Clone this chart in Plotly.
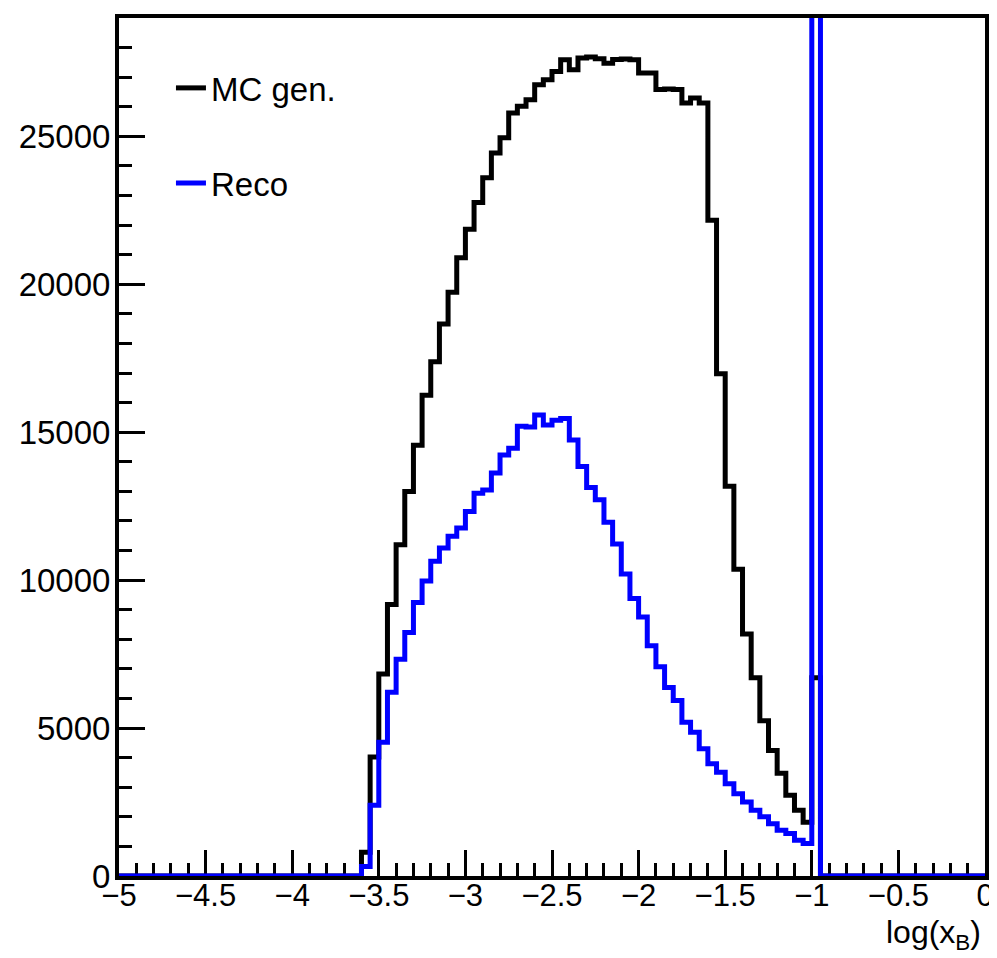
import numpy as np
import plotly.graph_objects as go

# Histogram binning: 100 bins from -5 to 0 in log(x_B)
x_min = -5.0
x_max = 0.0
n_bins = 100
first_bin = 28  # first non-empty bin index ([-3.6, -3.55])

# Bin contents (from bin [-3.6,-3.55] up to bin [-1.0,-0.95]); all other bins are 0
mc_gen = [800, 4020, 6830, 9180, 11200, 13000, 14560, 16250, 17380, 18660,
          19730, 20900, 21860, 22760, 23600, 24440, 24950, 25790, 26020, 26240,
          26740, 26910, 27190, 27590, 27250, 27650, 27680, 27620, 27470, 27600,
          27610, 27590, 27140, 27140, 26580, 26600, 26580, 26130, 26300, 26130,
          22160, 16980, 13170, 10370, 8180, 6700, 5250, 4240, 3470, 2730,
          2220, 1820, 6700]
reco = [320, 2390, 4520, 6210, 7330, 8230, 9240, 9970, 10640, 11090,
        11480, 11760, 12320, 12940, 13050, 13620, 14230, 14460, 15200, 15180,
        15580, 15240, 15400, 15460, 14740, 13840, 13130, 12720, 11960, 11220,
        10210, 9380, 8750, 7780, 7070, 6370, 5930, 5200, 4860, 4300,
        3790, 3510, 3120, 2780, 2500, 2220, 2000, 1770, 1550, 1440,
        1210, 1100, 45000]

series_names = ["MC gen.", "Reco"]
series_colors = ["#000000", "#0000ff"]

edges = np.linspace(x_min, x_max, n_bins + 1)


def full_hist(vals):
    h = np.zeros(n_bins)
    h[first_bin:first_bin + len(vals)] = vals
    return h


def step_xy(h):
    return edges, np.append(h, h[-1])


fig = go.Figure()
for name, vals, col, lg in zip(series_names, [mc_gen, reco], series_colors, ["legend", "legend2"]):
    xs, ys = step_xy(full_hist(vals))
    fig.add_trace(go.Scatter(
        x=xs, y=ys, mode="lines", name=name, legend=lg,
        line=dict(color=col, width=5, shape="hv"),
    ))

font_family = "Liberation Sans, Arial, sans-serif"
leg_font = dict(size=33, family=font_family, color="black")

fig.update_layout(
    width=997, height=958,
    margin=dict(l=111, r=20, t=6, b=90),
    plot_bgcolor="white", paper_bgcolor="white",
    font=dict(family=font_family, color="black"),
    showlegend=True,
    legend=dict(x=0.060, y=0.9185, xanchor="left", yanchor="middle",
                bgcolor="rgba(0,0,0,0)", font=leg_font),
    legend2=dict(x=0.060, y=0.8075, xanchor="left", yanchor="middle",
                 bgcolor="rgba(0,0,0,0)", font=leg_font),
    xaxis=dict(
        range=[x_min, x_max], tick0=-5, dtick=0.5,
        showgrid=False, zeroline=False,
        showline=True, linecolor="black", linewidth=4, mirror=True,
        ticks="inside", ticklen=26, tickwidth=3, tickcolor="black",
        minor=dict(ticks="inside", ticklen=13, tickwidth=3, tickcolor="black", dtick=0.1, showgrid=False),
        tickfont=dict(size=31, family=font_family, color="black"),
        ticklabelstandoff=-11,
        layer="below traces",
    ),
    yaxis=dict(
        range=[0, 29000], tick0=0, dtick=5000, tickformat="d",
        showgrid=False, zeroline=False,
        showline=True, linecolor="black", linewidth=4, mirror=True,
        ticks="inside", ticklen=26, tickwidth=3, tickcolor="black",
        minor=dict(ticks="inside", ticklen=13, tickwidth=3, tickcolor="black", dtick=1000, showgrid=False),
        tickfont=dict(size=33, family=font_family, color="black"),
        ticklabelstandoff=-2,
        layer="below traces",
    ),
    annotations=[dict(
        text="log(x<sub>B</sub>)", xref="paper", yref="paper", x=1, y=0,
        xanchor="right", yanchor="top", xshift=-2, yshift=-36, showarrow=False,
        font=dict(size=32, family=font_family, color="black"),
    )],
)

fig.write_html("out.html")
